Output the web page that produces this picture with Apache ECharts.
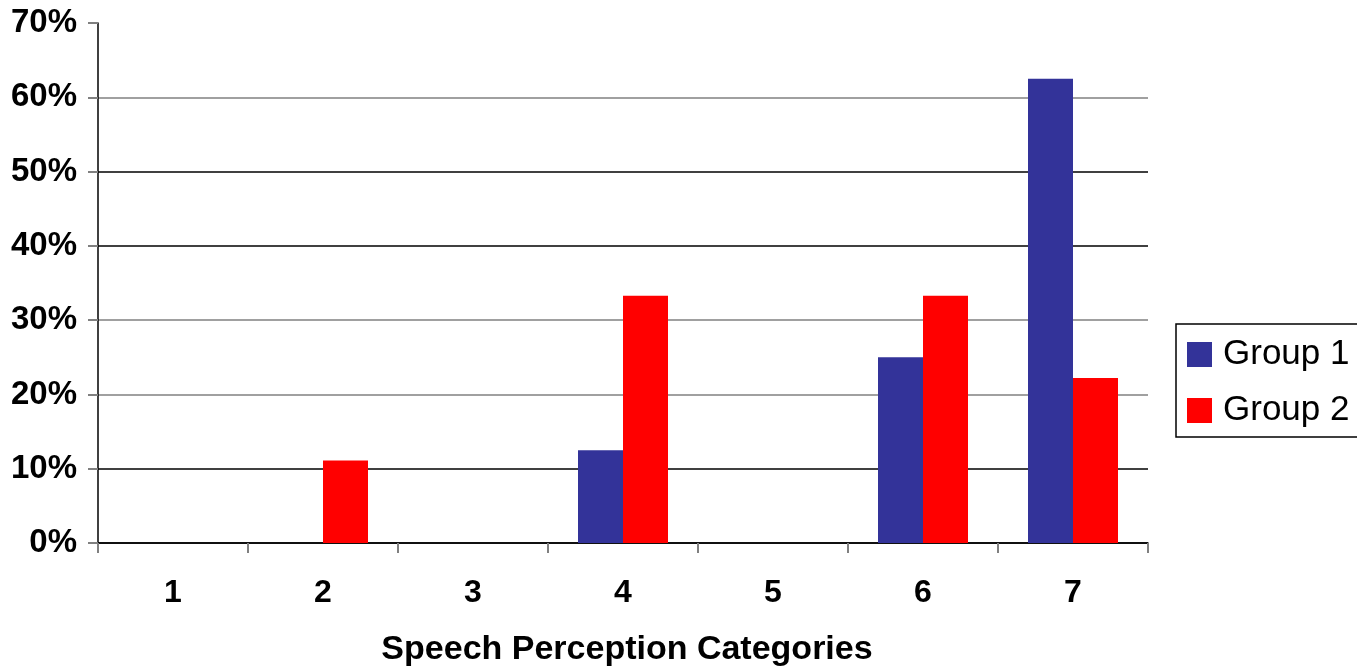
<!DOCTYPE html>
<html>
<head>
<meta charset="utf-8">
<script src="https://cdn.jsdelivr.net/npm/echarts@6/dist/echarts.min.js"></script>
<style>
  html, body { margin: 0; padding: 0; background: #fff; overflow: hidden; }
  #chart { width: 1357px; height: 672px; }
</style>
</head>
<body>
<div id="chart"></div>
<script>
// chart data
const categories = ['1', '2', '3', '4', '5', '6', '7'];
const group1 = [0, 0, 0, 12.5, 0, 25, 62.5];
const group2 = [0, 11.1, 0, 33.3, 0, 33.3, 22.2];
const yTicks = [0, 10, 20, 30, 40, 50, 60, 70];

const font = 'Liberation Sans, Arial, sans-serif';
// gridline shades as they appear in the original (0%..60%)
const gridColors = ['#000', '#000', '#808080', '#808080', '#000', '#000', '#808080'];

let myChart = echarts.init(document.getElementById('chart'));
myChart.setOption({
  animation: false,
  grid: { left: 98, top: 23, width: 1050, height: 524, containLabel: false },
  legend: {
    orient: 'vertical',
    left: 1176,
    top: 324,
    data: ['Group 1', 'Group 2'],
    itemWidth: 25,
    itemHeight: 25,
    itemGap: 21,
    padding: [13, 60, 9, 11],
    borderColor: '#000',
    borderWidth: 1.5,
    borderRadius: 0,
    icon: 'rect',
    textStyle: { fontFamily: font, fontSize: 35, color: '#000', padding: [0, 0, 0, 6] }
  },
  xAxis: {
    type: 'category',
    data: categories,
    name: 'Speech Perception Categories',
    nameLocation: 'middle',
    nameGap: 90,
    nameTextStyle: { fontFamily: font, fontSize: 34, fontWeight: 'bold', color: '#000', padding: [0, 0, 0, 8] },
    axisLine: { lineStyle: { color: '#000', width: 1.5 } },
    axisTick: { show: true, length: 10, lineStyle: { color: '#808080', width: 2 } },
    axisLabel: { fontFamily: font, fontSize: 32, fontWeight: 'bold', color: '#000', margin: 34 }
  },
  yAxis: {
    type: 'value',
    min: yTicks[0],
    max: yTicks[yTicks.length - 1],
    interval: 10,
    axisLine: { show: true, lineStyle: { color: '#000', width: 1.5 } },
    axisTick: { show: true, length: 10, lineStyle: { color: '#808080', width: 2 } },
    axisLabel: {
      fontFamily: font, fontSize: 33, fontWeight: 'bold', color: '#000', margin: 21,
      formatter: v => v + '%'
    },
    splitLine: { showMaxLine: false, lineStyle: { color: gridColors, width: 1.5 } }
  },
  series: [
    {
      name: 'Group 1', type: 'bar', data: group1,
      barGap: '0%', barCategoryGap: '40%',
      itemStyle: { color: '#333399' }
    },
    {
      name: 'Group 2', type: 'bar', data: group2,
      barGap: '0%', barCategoryGap: '40%',
      itemStyle: { color: '#ff0000' }
    }
  ]
});
</script>
</body>
</html>
